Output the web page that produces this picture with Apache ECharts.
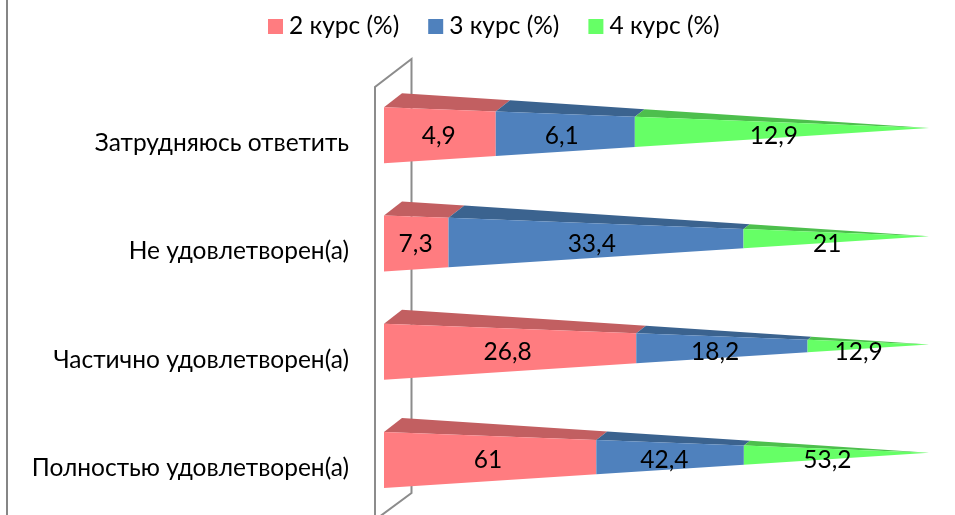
<!DOCTYPE html>
<html>
<head>
<meta charset="utf-8">
<style>html,body{margin:0;padding:0;background:#fff}#c{width:955px;height:515px}</style>
<script src="https://cdn.jsdelivr.net/npm/echarts@6/dist/echarts.min.js"></script>
</head>
<body>
<div id="c"></div>
<script>
var categories = ['Полностью удовлетворен(а)', 'Частично удовлетворен(а)', 'Не удовлетворен(а)', 'Затрудняюсь ответить'];
var course2 = [61, 26.8, 7.3, 4.9];
var course3 = [42.4, 18.2, 33.4, 6.1];
var course4 = [53.2, 12.9, 21, 12.9];
var seriesNames = ['2 курс (%)', '3 курс (%)', '4 курс (%)'];
var frontColors = ['#FF7C80', '#4F81BD', '#66FF66'];
var topColors = ['#C25F61', '#3B638F', '#4DBF4D'];
var FONT = 'Lato, "Open Sans", sans-serif';

var allSeries = [course2, course3, course4];
function rows(si) {
  return categories.map(function (c, i) {
    var total = course2[i] + course3[i] + course4[i], before = 0;
    for (var k = 0; k < si; k++) before += allSeries[k][i];
    return [before / total * 100, (before + allSeries[si][i]) / total * 100, i, allSeries[si][i]];
  });
}
function renderer(si) {
  return function (params, api) {
    var a = api.value(0), b = api.value(1), cat = api.value(2), val = api.value(3);
    var pa = api.coord([a, cat]), pb = api.coord([b, cat]);
    var mid = pa[1] - 6, ta = a / 100, tb = b / 100;
    function top(x, t) { return [x, mid - 28 + 20.8 * t]; }
    function bot(x, t) { return [x, mid + 28 - 35.2 * t]; }
    function back(x, t) { return [x + 18 * (1 - t), mid - 42 + 34.8 * t]; }
    var lx = api.coord([(a + b) / 2 * 0.98, cat])[0];
    return {
      type: 'group',
      children: [
        { type: 'polygon', shape: { points: [top(pa[0], ta), back(pa[0], ta), back(pb[0], tb), top(pb[0], tb)] },
          style: { fill: topColors[si] } },
        { type: 'polygon', shape: { points: [top(pa[0], ta), top(pb[0], tb), bot(pb[0], tb), bot(pa[0], ta)] },
          style: { fill: frontColors[si] } },
        { type: 'text', z2: 100, style: { x: lx, y: mid + 0.5, text: String(val).replace('.', ','),
          align: 'center', verticalAlign: 'middle', fill: '#000', font: '24.5px ' + FONT } }
      ]
    };
  };
}
var chart = echarts.init(document.getElementById('c'), null, { renderer: 'canvas' });
chart.setOption({
  animation: false,
  backgroundColor: '#fff',
  legend: {
    left: 268, top: 14, padding: 0, icon: 'rect', itemWidth: 15, itemHeight: 15, itemGap: 29, selectedMode: false,
    textStyle: { color: '#000', fontFamily: FONT, fontSize: 24.5, padding: [0, 0, 0, 1] },
    data: seriesNames
  },
  grid: { left: 384, right: 26, top: 87, height: 433, outerBoundsMode: 'none' },
  xAxis: { type: 'value', min: 0, max: 100, show: false },
  yAxis: { type: 'category', data: categories, axisLine: { show: false }, axisTick: { show: false },
    splitLine: { show: false },
    axisLabel: { margin: 35, color: '#000', fontFamily: FONT, fontSize: 24.5,
      formatter: function (v) { return '{a|' + v + '}'; },
      rich: { a: { color: '#000', fontFamily: FONT, fontSize: 24.5, padding: [4, 0, 0, 0] } } } },
  graphic: [
    { type: 'line', z: 0, shape: { x1: 7, y1: 0, x2: 7, y2: 515 }, style: { stroke: '#868686', lineWidth: 2 } },
    { type: 'polyline', z: 0, shape: { points: [[375, 520], [375, 87], [411.5, 59], [411.5, 493], [375, 520]] },
      style: { stroke: '#8C8C8C', lineWidth: 2, fill: null } }
  ],
  series: seriesNames.map(function (n, si) {
    return { type: 'custom', name: n, data: rows(si), clip: false, itemStyle: { color: frontColors[si] },
      encode: { x: [0, 1], y: 2 }, renderItem: renderer(si) };
  })
});
</script>
</body>
</html>
